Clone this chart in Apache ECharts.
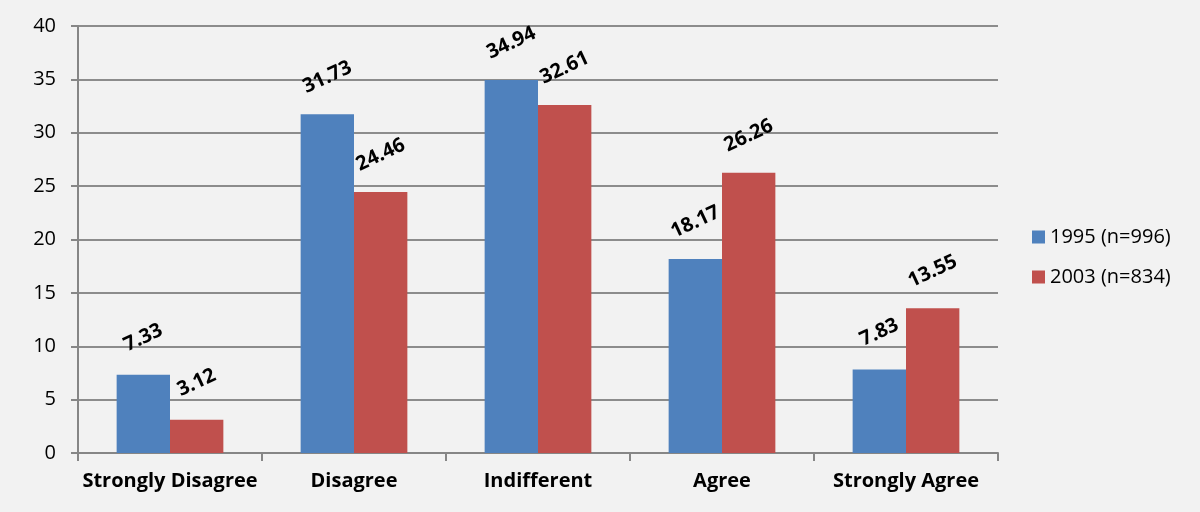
<!DOCTYPE html>
<html><head><meta charset="utf-8">
<script src="https://cdn.jsdelivr.net/npm/echarts@6/dist/echarts.min.js"></script>
<style>html,body{margin:0;padding:0;background:#f2f2f2}#c{width:1200px;height:512px}</style>
</head><body><div id="c"></div>
<script>
const categories = ['Strongly Disagree','Disagree','Indifferent','Agree','Strongly Agree'];
const series1995 = [7.33, 31.73, 34.94, 18.17, 7.83];
const series2003 = [3.12, 24.46, 32.61, 26.26, 13.55];
const seriesNames = ['1995 (n=996)','2003 (n=834)'];
const yTicks = {min:0, max:40, interval:5};

const font = 'Open Sans, Liberation Sans, sans-serif';
const chart = echarts.init(document.getElementById('c'), null, {renderer:'canvas'});
const lbl = {
  show:true, position:'top', distance:37, rotate:25,
  align:'center', verticalAlign:'middle',
  fontFamily:font, fontWeight:'bold', fontSize:20, color:'#000',
  formatter: p => p.value.toFixed(2)
};
chart.setOption({
  backgroundColor:'#f2f2f2',
  animation:false,
  grid:{left:78, right:202, top:26, bottom:59, containLabel:false},
  legend:{
    orient:'vertical', left:1027, top:222, itemGap:20,
    itemWidth:13, itemHeight:13, icon:'rect',
    textStyle:{fontFamily:font, fontSize:20, color:'#000'},
    data:seriesNames
  },
  xAxis:{
    type:'category', data:categories,
    axisLine:{lineStyle:{color:'#868686', width:2}},
    axisTick:{show:true, length:8, lineStyle:{color:'#868686', width:2}},
    axisLabel:{interval:0, fontFamily:font, fontWeight:'bold', fontSize:20, color:'#000', margin:18}
  },
  yAxis:{
    type:'value', min:yTicks.min, max:yTicks.max, interval:yTicks.interval,
    axisLine:{show:true, lineStyle:{color:'#868686', width:2}},
    axisTick:{show:true, length:7, lineStyle:{color:'#868686', width:2}},
    splitLine:{lineStyle:{color:'#8c8c8c', width:2}},
    axisLabel:{fontFamily:font, fontSize:20, color:'#000', margin:22}
  },
  series:[
    {name:seriesNames[0], type:'bar', data:series1995, barGap:'0%', barCategoryGap:'42%',
     itemStyle:{color:'#4f81bd'}, label:lbl},
    {name:seriesNames[1], type:'bar', data:series2003, barGap:'0%', barCategoryGap:'42%',
     itemStyle:{color:'#c0504d'}, label:lbl}
  ]
});
</script></body></html>
